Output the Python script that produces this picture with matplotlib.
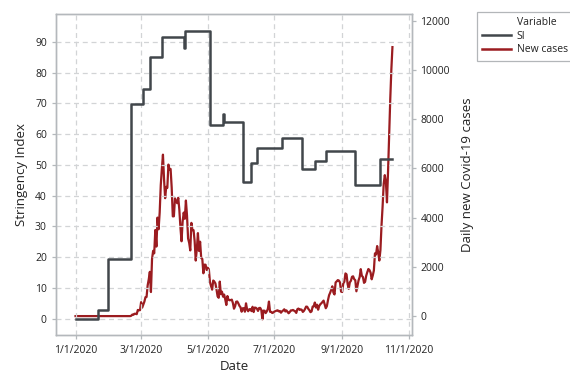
import numpy as np
import pandas as pd
import matplotlib
matplotlib.use("Agg")
import matplotlib.pyplot as plt
import matplotlib.dates as mdates
from matplotlib.lines import Line2D
from matplotlib.ticker import FuncFormatter

plt.rcParams['font.family'] = ['Open Sans', 'DejaVu Sans']

# daily new cases, 1 Jan 2020 .. 17 Oct 2020
cases_jan = [0, 0, 0, 0, 0, 0, 0, 0, 0, 0,
             0, 0, 0, 0, 0, 0, 0, 0, 0, 0,
             0, 0, 0, 0, 0, 0, 0, 0, 0, 0, 2]
cases_feb = [0, 0, 0, 0, 0, 1, 0, 0, 0, 0,
             0, 0, 0, 0, 0, 0, 0, 0, 0, 0,
             14, 62, 53, 97, 93, 78, 250, 238, 240]
cases_mar = [566, 342, 466, 587, 769, 778, 1247, 1492, 1797, 977,
             2313, 2651, 2547, 3497, 2823, 4000, 3526, 4207, 5322, 5986,
             6557, 5560, 4789, 5249, 5210, 6153, 5959, 5974, 5217, 4050, 4053]
cases_apr = [4782, 4668, 4585, 4805, 4316, 3599, 3039, 3836, 4204, 3951,
             4694, 4092, 3153, 2972, 2667, 3786, 3493, 3491, 3047, 2256,
             2729, 3370, 2646, 3021, 2357, 2324, 1739, 2091, 2086, 1872]
cases_may = [1965, 1900, 1389, 1221, 1075, 1444, 1401, 1327, 1083, 802,
             744, 1402, 888, 992, 789, 875, 675, 451, 813, 665,
             642, 652, 669, 531, 300, 397, 584, 593, 516, 416, 355]
cases_jun = [178, 318, 321, 177, 518, 270, 197, 280, 283, 202,
             379, 163, 346, 338, 301, 210, 329, 333, 251, -130,
             224, 218, 122, 190, 296, 590, 175, 174, 126, 142]
cases_jul = [187, 201, 223, 235, 192, 208, 138, 193, 229, 276,
             188, 234, 169, 114, 162, 230, 233, 249, 219, 190,
             129, 282, 306, 252, 275, 255, 170, 212, 289, 386, 379]
cases_aug = [295, 239, 159, 190, 384, 402, 552, 347, 463, 259,
             412, 481, 523, 574, 629, 479, 320, 403, 642, 845,
             947, 1071, 1210, 953, 878, 1367, 1411, 1462, 1444, 1365, 996]
cases_sep = [978, 1326, 1397, 1733, 1695, 1297, 1108, 1370, 1434, 1597,
             1616, 1501, 1458, 1008, 1229, 1452, 1585, 1907, 1638, 1587,
             1350, 1392, 1640, 1786, 1912, 1869, 1766, 1494, 1648, 1851]
cases_oct = [2548, 2499, 2844, 2578, 2257, 2677, 3678, 4458, 5372, 5724,
             5456, 4619, 5901, 7332, 8804, 10010, 10925]

new_cases = (cases_jan + cases_feb + cases_mar + cases_apr + cases_may + cases_jun
             + cases_jul + cases_aug + cases_sep + cases_oct)
dates = pd.date_range('2020-01-01', periods=len(new_cases), freq='D')

# stringency index: date each level starts, and the level
si_start = ['2020-01-01', '2020-01-22', '2020-01-31', '2020-02-21', '2020-03-03',
            '2020-03-09', '2020-03-20', '2020-04-09', '2020-04-10', '2020-05-03',
            '2020-05-15', '2020-05-16', '2020-06-02', '2020-06-10', '2020-06-15',
            '2020-07-08', '2020-07-26', '2020-08-07', '2020-08-17', '2020-09-13',
            '2020-10-06', '2020-10-17']
si_level = [0, 2.78, 19.44, 69.91, 74.54,
            85.19, 91.67, 88.0, 93.52, 63.0,
            66.67, 63.89, 44.44, 50.46, 55.56,
            58.6, 48.61, 51.39, 54.63, 43.52,
            51.85, 51.85]

grey_si = '#41464b'
red_nc = '#9b1c20'
frame = '#b4b8bc'
txt = '#222222'

fig = plt.figure(figsize=(5.7, 3.74), dpi=100)
ax = fig.add_axes([0.098, 0.104, 0.625, 0.859])
ax2 = ax.twinx()

ax.plot(pd.to_datetime(si_start), si_level, drawstyle='steps-post',
        color=grey_si, lw=1.8, zorder=3)
ax2.plot(dates, new_cases, color=red_nc, lw=1.6, zorder=3)

ax.set_xlim(pd.Timestamp('2019-12-14'), pd.Timestamp('2020-11-04'))
ax.set_ylim(-5.4, 99.1)
ax2.set_ylim(-772, 12276)
ax.set_yticks(np.arange(0, 91, 10))
ax2.set_yticks(np.arange(0, 12001, 2000))

ax.xaxis.set_major_locator(mdates.MonthLocator(bymonth=[1, 3, 5, 7, 9, 11]))
ax.xaxis.set_major_formatter(FuncFormatter(
    lambda v, pos: '{d.month}/{d.day}/{d.year}'.format(d=mdates.num2date(v))))

ax.grid(True, color='#d2d4d6', linestyle=(0, (4, 3)), lw=0.9)
ax.set_axisbelow(True)
ax.set_zorder(ax2.get_zorder() + 1)
ax.patch.set_visible(False)

for a in (ax, ax2):
    for s in a.spines.values():
        s.set_color(frame)
        s.set_linewidth(1.0)
    a.tick_params(colors=frame, labelcolor=txt, labelsize=7.5, length=3, width=0.9)
ax.tick_params(axis='x', pad=4)
ax2.tick_params(axis='y', pad=3)

ax.set_xlabel('Date', fontsize=9.5, color=txt, labelpad=3)
ax.set_ylabel('Stringency Index', fontsize=9.5, color=txt, labelpad=5)
ax2.set_ylabel('Daily new Covid-19 cases', fontsize=9.5, color=txt, labelpad=8)

handles = [Line2D([], [], color='none'),
           Line2D([], [], color=grey_si, lw=1.8),
           Line2D([], [], color=red_nc, lw=1.8)]
leg = fig.legend(handles, ['Variable', 'SI', 'New cases'],
                 loc='upper left', bbox_to_anchor=(0.837, 0.968),
                 fontsize=7.5, frameon=True, fancybox=False,
                 handlelength=2.8, handletextpad=0.5, labelspacing=0.25,
                 borderpad=0.5, borderaxespad=0)
leg.get_frame().set_edgecolor('#a0a4a8')
leg.get_frame().set_linewidth(0.9)
for t in leg.get_texts():
    t.set_color(txt)

fig.savefig('out.png', dpi=100)
